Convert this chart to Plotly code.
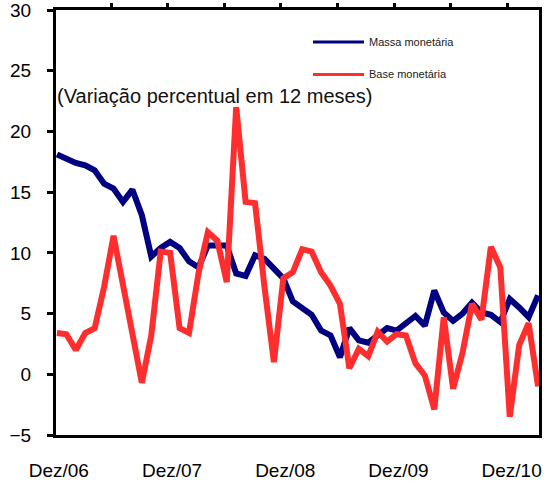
import plotly.graph_objects as go

# Monthly observations, Dez/06 through Mar/11 (12-month % change)
month_index = list(range(52))

massa_monetaria = [
    18.1, 17.7, 17.4, 17.2, 16.8, 15.7, 15.3, 14.2, 15.2, 13.1,
    9.7, 10.4, 10.9, 10.4, 9.3, 8.8, 10.6, 10.6, 10.6, 8.3,
    8.1, 9.8, 9.5, 8.7, 7.9, 6.0, 5.4, 4.9, 3.6, 3.2,
    1.4, 3.8, 2.8, 2.6, 3.2, 3.8, 3.6, 4.2, 4.8, 4.0,
    6.9, 5.1, 4.4, 5.0, 5.9, 5.1, 4.9, 4.3, 6.2, 5.5,
    4.7, 6.5,
]

base_monetaria = [
    3.4, 3.3, 2.0, 3.4, 3.8, 7.2, 11.4, 7.4, 3.4, -0.7,
    3.2, 10.1, 10.0, 3.8, 3.4, 8.3, 11.7, 11.0, 7.6, 22.0,
    14.2, 14.1, 7.2, 1.0, 7.9, 8.4, 10.3, 10.1, 8.4, 7.3,
    5.8, 0.5, 2.1, 1.5, 3.5, 2.7, 3.3, 3.2, 0.9, -0.1,
    -2.9, 4.7, -1.2, 1.8, 5.8, 4.5, 10.5, 8.8, -3.5, 2.4,
    4.2, -1.0,
]

tick_positions = [0.2, 12.2, 24.2, 36.2, 48.2]
tick_labels = ["Dez/06", "Dez/07", "Dez/08", "Dez/09", "Dez/10"]
top_tick_positions = [-0.25, 5.75, 11.75, 17.75, 23.75, 29.75, 35.75, 41.75, 47.75]
y_ticks = [-5, 0, 5, 10, 15, 20, 25, 30]

BLUE = "#000080"
RED = "#FF2E2E"
FONT = "Arial, Liberation Sans, sans-serif"

fig = go.Figure()
fig.add_trace(go.Scatter(
    x=month_index, y=massa_monetaria, mode="lines", name="Massa monetária",
    line=dict(color=BLUE, width=6), showlegend=False,
))
fig.add_trace(go.Scatter(
    x=month_index, y=base_monetaria, mode="lines", name="Base monetária",
    line=dict(color=RED, width=6), showlegend=False,
))
# invisible trace carrying the top axis with its tick marks
fig.add_trace(go.Scatter(
    x=[month_index[0], month_index[-1]], y=[None, None], xaxis="x2",
    mode="lines", showlegend=False, hoverinfo="skip",
))

# plot area geometry in pixels
W, H = 550, 487
L, R, T, B = 56, 11, 10, 52
pw, ph = W - L - R, H - T - B


def px_x(px):
    return (px - L) / pw


def px_y(py):
    return (H - B - py) / ph


fig.update_layout(
    width=W, height=H,
    margin=dict(l=L, r=R, t=T, b=B, autoexpand=False),
    plot_bgcolor="white", paper_bgcolor="white",
    font=dict(family=FONT, color="black"),
    xaxis=dict(
        range=[-0.1, 51.1], showgrid=False, zeroline=False, automargin=False,
        showline=True, linecolor="black", linewidth=3, mirror=True,
        tickmode="array", tickvals=tick_positions, ticktext=tick_labels,
        ticks="", tickfont=dict(size=19, family=FONT, color="black"),
        ticklabelstandoff=16, ticklabeloverflow="allow",
    ),
    xaxis2=dict(
        range=[-0.1, 51.1], overlaying="x", side="top", showgrid=False,
        zeroline=False, showline=False, tickmode="array", automargin=False,
        tickvals=top_tick_positions, ticks="outside", ticklen=6,
        tickwidth=3, tickcolor="black", showticklabels=False,
    ),
    yaxis=dict(
        range=[-5, 30], showgrid=False, zeroline=False, automargin=False,
        showline=True, linecolor="black", linewidth=3, mirror=True,
        tickmode="array", tickvals=y_ticks, ticks="outside", ticklen=6,
        tickwidth=3, tickcolor="black",
        tickfont=dict(size=19, family=FONT, color="black"),
        ticklabelstandoff=12, ticklabeloverflow="allow",
    ),
)

# legend drawn as line samples with labels
legend_items = [("Massa monetária", BLUE, 42), ("Base monetária", RED, 74.5)]
for label, color, py in legend_items:
    fig.add_shape(
        type="line", xref="paper", yref="paper",
        x0=px_x(313), x1=px_x(364), y0=px_y(py), y1=px_y(py),
        line=dict(color=color, width=3),
    )
    fig.add_annotation(
        xref="paper", yref="paper", x=px_x(367), y=px_y(py),
        xanchor="left", yanchor="middle", showarrow=False, text=label,
        font=dict(size=11, family=FONT, color="#222"),
    )

fig.add_annotation(
    xref="paper", yref="paper", x=px_x(55), y=px_y(96),
    xanchor="left", yanchor="middle", showarrow=False,
    text="(Variação percentual em 12 meses)",
    font=dict(size=20, family=FONT, color="#111"),
)

fig.write_html("out.html")
